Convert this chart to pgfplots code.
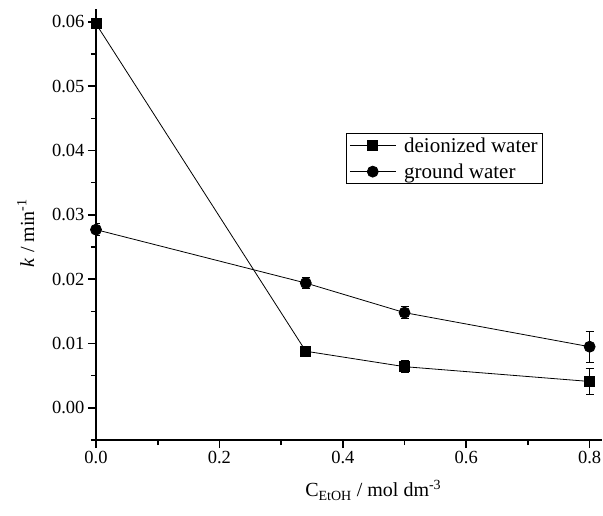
\documentclass[border=0pt]{standalone}
\usepackage{pgfplots}
\pgfplotsset{compat=1.18}
\usepackage{fontspec}
\setmainfont{Liberation Serif}
\begin{document}
\begin{tikzpicture}
\useasboundingbox (-96pt,-75pt) rectangle (507pt,440pt);
\begin{axis}[
  scale only axis, width=506pt, height=431pt,
  xmin=0, xmax=0.82, ymin=-0.005, ymax=0.062,
  axis lines*=left,
  axis line style={line width=1.6pt, black},
  xtick={0,0.2,0.4,0.6,0.8}, minor xtick={0.1,0.3,0.5,0.7},
  ytick={0,0.01,0.02,0.03,0.04,0.05,0.06},
  minor ytick={-0.005,0.005,0.015,0.025,0.035,0.045,0.055},
  tick align=outside, major tick length=8pt, minor tick length=5pt,
  every tick/.style={black, line width=1.6pt},
  scaled y ticks=false, scaled x ticks=false,
  xticklabel style={/pgf/number format/.cd, fixed, fixed zerofill, precision=1},
  yticklabel style={/pgf/number format/.cd, fixed, fixed zerofill, precision=2},
  /pgf/number format/assume math mode=true,
  ticklabel style={font=\fontsize{18.5}{20}\selectfont},
  xlabel={C\textsubscript{EtOH} / mol dm\textsuperscript{-3}},
  xlabel style={at={(axis description cs:0.548,-0.132)}, anchor=base, font=\fontsize{20}{24}\selectfont},
  ylabel={\textit{k} / min\textsuperscript{-1}},
  ylabel style={at={(axis description cs:-0.1225,0.48)}, anchor=base, rotate=0, font=\fontsize{20}{24}\selectfont},
  legend style={at={(axis description cs:0.494,0.712)}, anchor=north west, draw=black, line width=0.8pt,
    font=\fontsize{21}{24}\selectfont, row sep=6pt, inner xsep=3pt, inner ysep=2pt},
  legend cell align=left,
  legend image code/.code={\draw[mark repeat=2,mark phase=2] plot coordinates {(0pt,0pt)(23pt,0pt)(46pt,0pt)};
    \path (52pt,0pt);},
]
\addplot[black, line width=0.8pt, mark=square*, mark size=5pt, mark options={solid, fill=black},
  error bars/.cd, y dir=both, y explicit,
  error bar style={line width=0.9pt, black}, error mark options={rotate=90, mark size=4pt, line width=0.9pt}]
  coordinates {
  (0,0.0597) +- (0,0.0008)
  (0.34,0.0088) +- (0,0.0008)
  (0.5,0.0064) +- (0,0.0009)
  (0.8,0.0041) +- (0,0.0020)
};
\addlegendentry{deionized water}
\addplot[black, line width=0.8pt, mark=*, mark size=5.5pt, mark options={solid, fill=black},
  error bars/.cd, y dir=both, y explicit,
  error bar style={line width=0.9pt, black}, error mark options={rotate=90, mark size=4pt, line width=0.9pt}]
  coordinates {
  (0,0.0277) +- (0,0.0009)
  (0.34,0.0194) +- (0,0.0009)
  (0.5,0.0148) +- (0,0.0009)
  (0.8,0.0095) +- (0,0.0024)
};
\addlegendentry{ground water}
\end{axis}
\end{tikzpicture}
\end{document}
